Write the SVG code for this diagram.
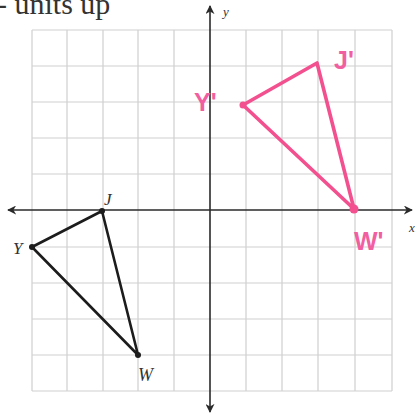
<svg xmlns="http://www.w3.org/2000/svg" width="415" height="420" viewBox="0 0 415 420">
<style>
.grid line{stroke:#cfcfcf;stroke-width:1.2}
.axis{stroke:#2a2a2a;stroke-width:1.6;fill:none}
.tri{stroke:#1c1c1c;stroke-width:2.6;fill:none;stroke-linejoin:round}
.ptri{stroke:#f2508f;stroke-width:3.6;fill:none;stroke-linejoin:round}
.lbl{font-family:"Liberation Serif",serif;font-style:italic;fill:#333}
.plbl{font-family:"Liberation Sans",sans-serif;font-weight:bold;fill:#f25fa0}
</style>
<defs>
<marker id="ah" viewBox="0 0 10 10" refX="9" refY="5" markerWidth="9" markerHeight="9" markerUnits="userSpaceOnUse" orient="auto-start-reverse">
<path d="M0,0 L10,5 L0,10 L3,5 Z" fill="#2a2a2a"/>
</marker>
</defs>
<rect width="415" height="420" fill="#fff"/>
<text x="-3" y="14" font-family="Liberation Serif,serif" font-size="30" fill="#333">- units up</text>
<g class="grid">
<line x1="32" y1="30" x2="32" y2="391"/>
<line x1="67" y1="30" x2="67" y2="391"/>
<line x1="103" y1="30" x2="103" y2="391"/>
<line x1="138" y1="30" x2="138" y2="391"/>
<line x1="174" y1="30" x2="174" y2="391"/>
<line x1="246" y1="30" x2="246" y2="391"/>
<line x1="282" y1="30" x2="282" y2="391"/>
<line x1="318" y1="30" x2="318" y2="391"/>
<line x1="355" y1="30" x2="355" y2="391"/>
<line x1="392" y1="30" x2="392" y2="391"/>
<line x1="32" y1="30" x2="392" y2="30"/>
<line x1="32" y1="66" x2="392" y2="66"/>
<line x1="32" y1="102" x2="392" y2="102"/>
<line x1="32" y1="138" x2="392" y2="138"/>
<line x1="32" y1="174" x2="392" y2="174"/>
<line x1="32" y1="247" x2="392" y2="247"/>
<line x1="32" y1="283" x2="392" y2="283"/>
<line x1="32" y1="319" x2="392" y2="319"/>
<line x1="32" y1="355" x2="392" y2="355"/>
<line x1="32" y1="391" x2="392" y2="391"/>
</g>
<g id="axes">
<line class="axis" x1="8" y1="210" x2="412" y2="210" marker-start="url(#ah)" marker-end="url(#ah)"/>
<line class="axis" x1="210" y1="6" x2="210" y2="412" marker-start="url(#ah)" marker-end="url(#ah)"/>
<text class="lbl" x="223" y="16" font-size="13">y</text>
<text class="lbl" x="409" y="232" font-size="13">x</text>
</g>
<g id="triangle-JYW">
<polygon class="tri" points="102,211 32,247 138,355"/>
<circle cx="102" cy="211" r="3" fill="#1c1c1c"/>
<circle cx="32" cy="247" r="3" fill="#1c1c1c"/>
<circle cx="138" cy="355" r="3" fill="#1c1c1c"/>
<text class="lbl" x="104" y="205" font-size="17">J</text>
<text class="lbl" x="13" y="254" font-size="17">Y</text>
<text class="lbl" x="138" y="381" font-size="18">W</text>
</g>
<g id="triangle-image">
<polygon class="ptri" points="243,105 317,63 354,209"/>
<circle cx="243" cy="105" r="3.5" fill="#f2508f"/>
<circle cx="354" cy="209" r="4.5" fill="#f2508f"/>
<text class="plbl" x="194" y="111" font-size="25">Y'</text>
<text class="plbl" x="334" y="69" font-size="25">J'</text>
<text class="plbl" x="354" y="250" font-size="25">W'</text>
</g>
</svg>
